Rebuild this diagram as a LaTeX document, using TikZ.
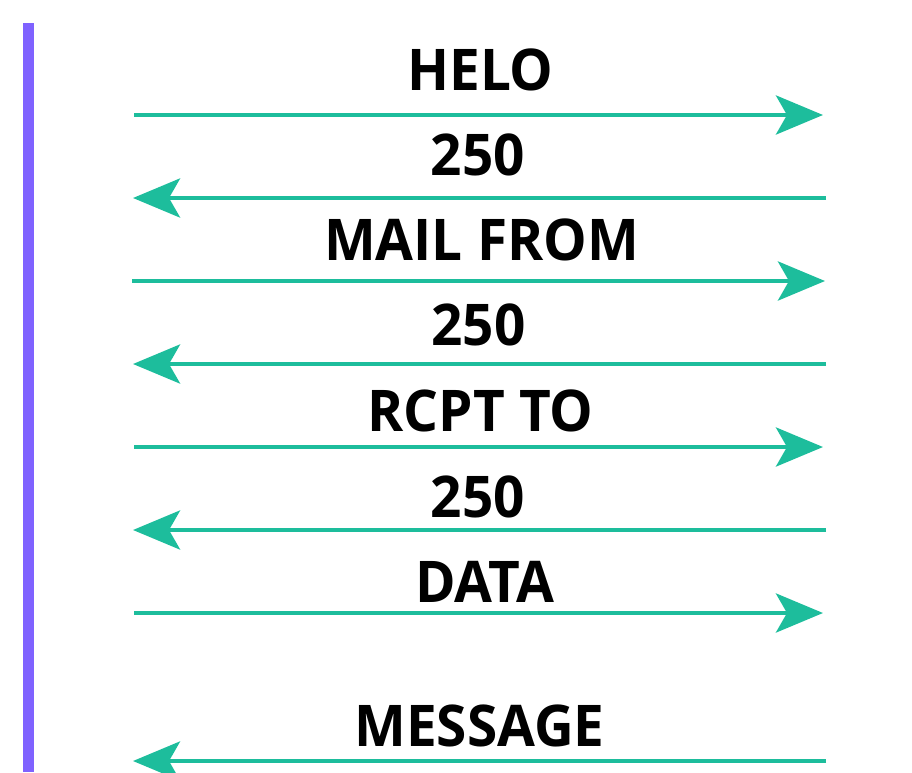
\documentclass[tikz,border=0pt]{standalone}
\usepackage{fontspec}
\setmainfont{Open Sans}[BoldFont={* Bold},BoldFeatures={FakeStretch=0.955}]
\usetikzlibrary{arrows.meta}
\definecolor{teal}{RGB}{29,189,156}
\definecolor{lilac}{RGB}{127,98,255}
\begin{document}
\begin{tikzpicture}[x=1pt,y=-1pt,
  msg/.style={draw=teal,line width=4.7pt,-{Stealth[length=47pt,width=39pt,inset=11pt]},fill=none},
  lbl/.style={anchor=base,inner sep=0pt,font=\fontsize{57.5}{60}\selectfont\bfseries}]
\useasboundingbox (0,0) rectangle (912,772);
\fill[lilac] (23,23) rectangle (34,772);
% labels
\node[lbl] (t1) at (480.5,90) {HELO};
\node[lbl] (t2) at (478,175) {250};
\node[lbl] (t3) at (481.5,260) {MAIL FROM};
\node[lbl] (t4) at (478.5,345) {250};
\node[lbl] (t5) at (480.5,431) {RCPT TO};
\node[lbl] (t6) at (478,517) {250};
\node[lbl] (t7) at (485,602) {DATA};
\node[lbl] (t8) at (479.5,746) {MESSAGE};
% endpoints
\coordinate (a1) at (134,115); \coordinate (b1) at (823,115);
\coordinate (a2) at (133,198); \coordinate (b2) at (826,198);
\coordinate (a3) at (132,281); \coordinate (b3) at (825,281);
\coordinate (a4) at (133,364); \coordinate (b4) at (826,364);
\coordinate (a5) at (134,447); \coordinate (b5) at (823,447);
\coordinate (a6) at (133,530); \coordinate (b6) at (826,530);
\coordinate (a7) at (134,613); \coordinate (b7) at (823,613);
\coordinate (a8) at (133,761); \coordinate (b8) at (826,761);
\draw[msg] (a1) -- (b1);
\draw[msg] (b2) -- (a2);
\draw[msg] (a3) -- (b3);
\draw[msg] (b4) -- (a4);
\draw[msg] (a5) -- (b5);
\draw[msg] (b6) -- (a6);
\draw[msg] (a7) -- (b7);
\draw[msg] (b8) -- (a8);
\end{tikzpicture}
\end{document}
